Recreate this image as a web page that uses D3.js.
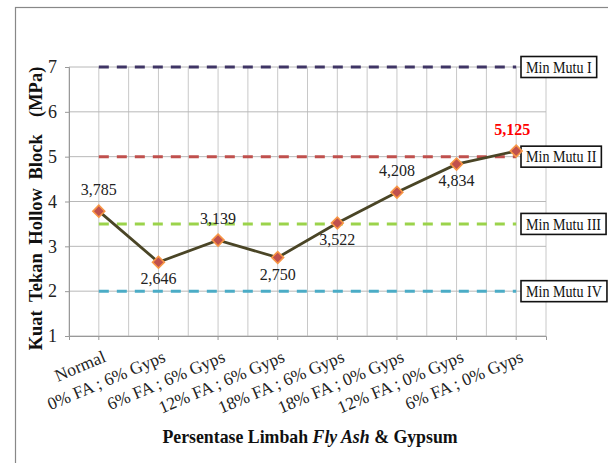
<!DOCTYPE html>
<html>
<head>
<meta charset="utf-8">
<script src="https://cdn.jsdelivr.net/npm/d3@7"></script>
<style>
  body { margin: 0; background: #fff; }
  text { font-family: "Liberation Serif", "Times New Roman", serif; }
</style>
</head>
<body>
<div id="chart"></div>
<script>
// categories on the x axis
const categories = ["Normal", "0% FA ; 6% Gyps", "6% FA ; 6% Gyps", "12% FA ; 6% Gyps",
  "18% FA ; 6% Gyps", "18% FA ; 0% Gyps", "12% FA ; 0% Gyps", "6% FA ; 0% Gyps"];
// kuat tekan (MPa)
const strength = [3.785, 2.646, 3.139, 2.750, 3.522, 4.208, 4.834, 5.125];
const strengthLabels = ["3,785", "2,646", "3,139", "2,750", "3,522", "4,208", "4,834", "5,125"];
const labelSide = ["up", "down", "up", "down", "down", "up", "down", "up"];
// minimum quality lines
const minNames = ["Min Mutu I", "Min Mutu II", "Min Mutu III", "Min Mutu IV"];
const minValues = [7, 5, 3.5, 2];
const minColors = ["#3f3565", "#c0504d", "#9bd34b", "#4bacc6"];
const yTicks = [1, 2, 3, 4, 5, 6, 7];

const W = 608, H = 463;
const margin = { top: 67, right: 62, bottom: 127, left: 69 };
const width = W - margin.left - margin.right,
  height = H - margin.top - margin.bottom;

const svg = d3.select("#chart").append("svg")
  .attr("width", W).attr("height", H);

// outer frame (cut by the picture edge on right/bottom)
svg.append("rect")
  .attr("x", 15.5).attr("y", 7.5)
  .attr("width", W).attr("height", H)
  .attr("fill", "none").attr("stroke", "#888").attr("stroke-width", 1.2);

const g = svg.append("g")
  .attr("transform", "translate(" + margin.left + "," + margin.top + ")");

const x = d3.scaleBand().domain(categories).range([0, width]);
const y = d3.scaleLinear().domain([1, 7]).range([height, 0]);
const cx = d => x(d) + x.bandwidth() / 2;

// vertical grid lines at band edges and band centres
const vLines = [];
categories.forEach(c => { vLines.push(x(c)); vLines.push(cx(c)); });
vLines.push(width);
g.selectAll(".vgrid").data(vLines).enter().append("line")
  .attr("x1", d => d).attr("x2", d => d)
  .attr("y1", 0).attr("y2", height)
  .attr("stroke", "#c8c8c8").attr("stroke-width", 1);

// horizontal grid lines
g.selectAll(".hgrid").data(yTicks).enter().append("line")
  .attr("x1", 0).attr("x2", width)
  .attr("y1", d => y(d)).attr("y2", d => y(d))
  .attr("stroke", "#b8b8b8").attr("stroke-width", 1);

// y axis
const yAxis = g.append("g")
  .call(d3.axisLeft(y).tickValues(yTicks).tickSize(4).tickPadding(8).tickFormat(d3.format("d")));
yAxis.select(".domain").attr("stroke", "#999");
yAxis.selectAll(".tick line").attr("stroke", "#999");
yAxis.selectAll("text").attr("font-size", 18).attr("fill", "#222")
  .attr("font-family", "Liberation Serif");

// x axis
const xAxis = g.append("g")
  .attr("transform", "translate(0," + height + ")")
  .call(d3.axisBottom(x).tickSize(4).tickFormat(""));
xAxis.select(".domain").attr("stroke", "#999");
xAxis.selectAll(".tick line").attr("stroke", "#999");

g.selectAll(".xlab").data(categories).enter().append("text")
  .attr("transform", d => "translate(" + (cx(d) + 3) + "," + (height + 13) + ") rotate(-23)")
  .attr("text-anchor", "end")
  .attr("dy", "0.75em")
  .attr("font-size", 17.5)
  .attr("fill", "#222")
  .text(d => d);

// min quality dashed lines
minValues.forEach((v, i) => {
  g.append("line")
    .attr("x1", cx(categories[0])).attr("x2", cx(categories[categories.length - 1]))
    .attr("y1", y(v)).attr("y2", y(v))
    .attr("stroke", minColors[i]).attr("stroke-width", 3)
    .attr("stroke-dasharray", "10,8");

  const lab = g.append("g")
    .attr("transform", "translate(" + (width - 25) + "," + y(v) + ")");
  const t = lab.append("text")
    .attr("transform", "translate(5,0) scale(0.88,1)")
    .attr("dy", "0.35em")
    .attr("font-size", 16).attr("fill", "#111")
    .text(minNames[i]);
  const bb = t.node().getBBox();
  lab.insert("rect", "text")
    .attr("x", 0).attr("y", -10.5)
    .attr("width", bb.width * 0.88 + 10).attr("height", 21)
    .attr("fill", "#fff").attr("stroke", "#111").attr("stroke-width", 1.6);
});

// main series
const line = d3.line()
  .x((d, i) => cx(categories[i]))
  .y(d => y(d));
g.append("path")
  .datum(strength)
  .attr("d", line)
  .attr("fill", "none")
  .attr("stroke", "#4a4526")
  .attr("stroke-width", 2.8);

const diamond = d3.symbol().type(d3.symbolSquare).size(70);
g.selectAll(".pt").data(strength).enter().append("path")
  .attr("d", diamond)
  .attr("transform", (d, i) => "translate(" + cx(categories[i]) + "," + y(d) + ") rotate(45)")
  .attr("fill", "#c0504d")
  .attr("stroke", "#f79646")
  .attr("stroke-width", 1.6);

// data labels
g.selectAll(".dlab").data(strength).enter().append("text")
  .attr("x", (d, i) => cx(categories[i]) - (i === strength.length - 1 ? 4 : 0))
  .attr("y", (d, i) => y(d) + (labelSide[i] === "up" ? -16 : 22))
  .attr("text-anchor", "middle")
  .attr("font-size", 16)
  .attr("font-weight", (d, i) => i === strength.length - 1 ? "bold" : "normal")
  .attr("fill", (d, i) => i === strength.length - 1 ? "#ff0000" : "#222")
  .text((d, i) => strengthLabels[i]);

// axis titles
svg.append("text")
  .attr("transform", "translate(42," + (margin.top + height / 2 + 7) + ") rotate(-90)")
  .attr("text-anchor", "middle")
  .attr("font-size", 18.5).attr("font-weight", "bold").attr("fill", "#111")
  .attr("word-spacing", 4)
  .attr("xml:space", "preserve")
  .text("Kuat Tekan Hollow Block  (MPa)");

const xt = svg.append("text")
  .attr("x", 310).attr("y", 443)
  .attr("text-anchor", "middle")
  .attr("font-size", 17.8).attr("font-weight", "bold").attr("fill", "#111");
xt.append("tspan").text("Persentase Limbah ");
xt.append("tspan").attr("font-style", "italic").text("Fly Ash");
xt.append("tspan").text(" & Gypsum");
</script>
</body>
</html>
